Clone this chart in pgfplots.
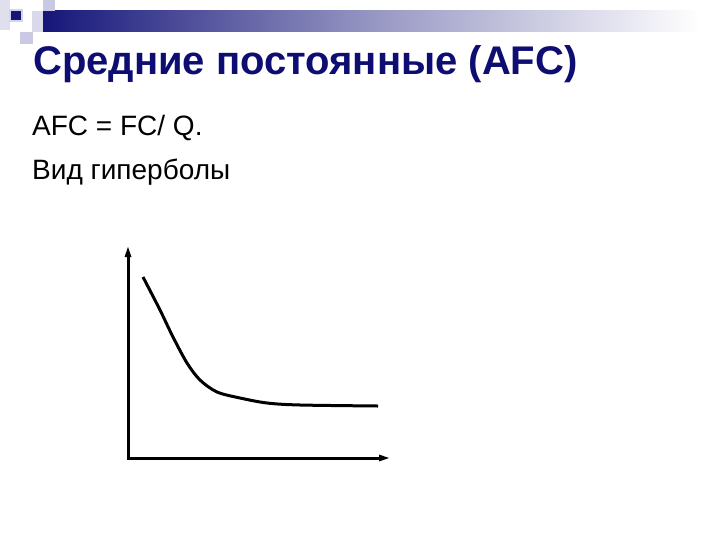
\documentclass[border=0pt]{standalone}
\usepackage{fontspec}
\setmainfont{Liberation Sans}
\usepackage{pgfplots}
\pgfplotsset{compat=1.18}
\usetikzlibrary{arrows.meta}
\definecolor{TitleBlue}{HTML}{0E0E72}
\definecolor{BarNavy}{HTML}{16167A}
\definecolor{Lavender}{HTML}{C9C9E3}

\begin{document}
\begin{tikzpicture}[x=1bp, y=-1bp]
% slide canvas, 720 x 540
\fill[white] (0,0) rectangle (720,540);

% header decoration
\shade[left color=BarNavy, right color=white, middle color=BarNavy!45] (43,11) rectangle (700,32);
\fill[Lavender!70] (32,11) rectangle (43,32);
\fill[Lavender] (43,0) rectangle (55,11);
\fill[Lavender] (20,32) rectangle (33,44);
\fill[Lavender!60] (0,0) rectangle (10,30);
\fill[Lavender!80] (9,9) rectangle (23,22);
\fill[BarNavy] (11,11) rectangle (21,20);

% texts
\node[anchor=base west, inner sep=0, text=TitleBlue, font=\fontsize{40bp}{44bp}\selectfont\bfseries]
  at (33,75) {Средние постоянные (AFC)};
\node[anchor=base west, inner sep=0, font=\fontsize{28bp}{32bp}\selectfont]
  at (32,136) {AFC = FC/ Q.};
\node[anchor=base west, inner sep=0, font=\fontsize{28bp}{32bp}\selectfont]
  at (32,180) {Вид гиперболы};

% AFC curve
\begin{axis}[
    at={(128bp,-458bp)}, anchor=south west,
    scale only axis,
    width=260bp, height=210bp,
    xmin=0, xmax=260, ymin=0, ymax=210,
    axis lines=none,
    clip=false,
]
% axes
\draw[black, line width=3bp, line join=miter] (axis cs:0,203) |- (axis cs:253,0);
\fill[black] (axis cs:0,211) -- (axis cs:-3.5,201) -- (axis cs:3.5,201) -- cycle;
\fill[black] (axis cs:261,0) -- (axis cs:251,3.5) -- (axis cs:251,-3.5) -- cycle;
\addplot[black, line width=3bp, smooth, no markers] coordinates {
    (15,181) (32,148) (45,121) (59,95) (72,78) (89,66)
    (112,60) (139,55) (172,53) (250,52)};
\end{axis}
\end{tikzpicture}
\end{document}
